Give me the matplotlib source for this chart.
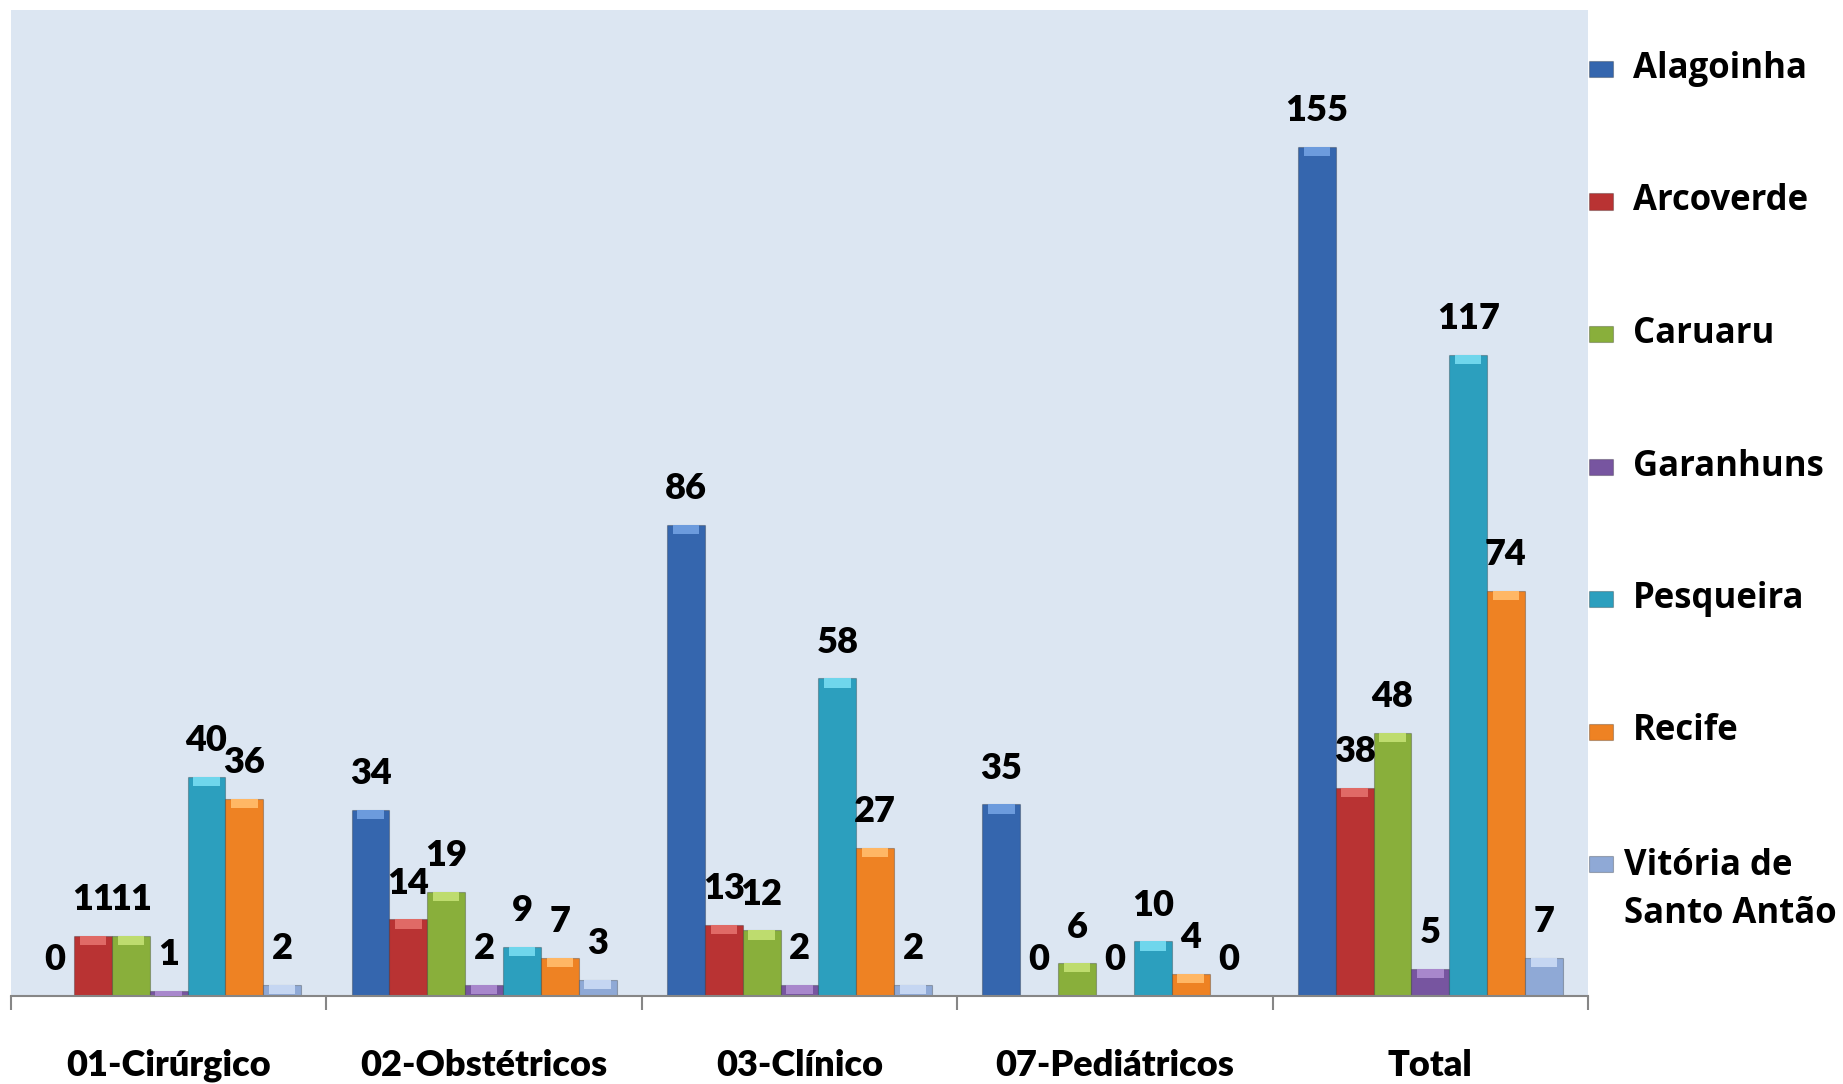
import matplotlib.pyplot as plt
import numpy as np

# categories and series
categories = ['01-Cirúrgico', '02-Obstétricos', '03-Clínico', '07-Pediátricos', 'Total']
series_names = ['Alagoinha', 'Arcoverde', 'Caruaru', 'Garanhuns', 'Pesqueira', 'Recife',
                'Vitória de\nSanto Antão']

alagoinha = [0, 34, 86, 35, 155]
arcoverde = [11, 14, 13, 0, 38]
caruaru = [11, 19, 12, 6, 48]
garanhuns = [1, 2, 2, 0, 5]
pesqueira = [40, 9, 58, 10, 117]
recife = [36, 7, 27, 4, 74]
vitoria = [2, 3, 2, 0, 7]

values = [alagoinha, arcoverde, caruaru, garanhuns, pesqueira, recife, vitoria]
colors = ['#3566AE', '#B93333', '#89AF3B', '#7755A0', '#2C9FBE', '#EE8223', '#8FA9D6']
caps = ['#6C9BDD', '#E06A66', '#BEDC6E', '#A887CC', '#6FD6EC', '#FFB765', '#C5D6F2']

W, H = 1843, 1084
fig = plt.figure(figsize=(W / 100, H / 100), dpi=100)
ax = fig.add_axes([11 / W, 1 - 996 / H, (1588 - 11) / W, (996 - 10) / H])
ax.set_facecolor('#DCE6F2')

x = np.arange(len(categories))
bw = 0.12
cap_h = 1.7
for i, (vals, c, cc) in enumerate(zip(values, colors, caps)):
    pos = x + (i - 3) * bw
    vals = np.array(vals, dtype=float)
    ax.bar(pos, vals, bw, color=c, edgecolor='#00000040', linewidth=0.8, zorder=2)
    capv = np.minimum(vals, cap_h)
    ax.bar(pos, capv, bw * 0.7, bottom=vals - capv, color=cc, linewidth=0, zorder=3)
    for px, v in zip(pos, vals):
        ax.annotate(f'{int(v)}', (px, v), xytext=(0, 26), textcoords='offset points',
                    ha='center', va='center', fontsize=26, fontweight='heavy',
                    family='Lato', color='black', zorder=4)

ax.set_xlim(-0.5, 4.5)
ax.set_ylim(0, 180)
ax.set_yticks([])
for s in ['top', 'right', 'left']:
    ax.spines[s].set_visible(False)
ax.spines['bottom'].set_color('#868686')
ax.spines['bottom'].set_linewidth(1.5)

ax.set_xticks(np.arange(-0.5, 5, 1))
ax.set_xticklabels([])
ax.tick_params(axis='x', which='major', length=10, width=1.5, color='#868686', direction='out')
ax.set_xticks(x, minor=True)
ax.set_xticklabels(categories, minor=True, fontsize=26, fontweight='heavy', family='Lato')
ax.tick_params(axis='x', which='minor', length=0, pad=38)

# legend drawn by hand to match the spacing of the original
leg_y0 = 69
leg_dy = 132.5
for i, (name, c) in enumerate(zip(series_names, colors)):
    yc = leg_y0 + i * leg_dy
    fig.patches.append(plt.Rectangle((1589 / W, 1 - (yc + 8) / H), 24 / W, 16 / H,
                                     transform=fig.transFigure, facecolor=c,
                                     edgecolor='#00000040', linewidth=0.8))
    two_lines = '\n' in name
    tx = 1624 if two_lines else 1633
    ty = yc + 26 if two_lines else yc
    fig.text(tx / W, 1 - ty / H, name, fontsize=25, fontweight='bold', family='Open Sans',
             va='center', ha='left', linespacing=1.45)

fig.savefig('out.png', dpi=100)
